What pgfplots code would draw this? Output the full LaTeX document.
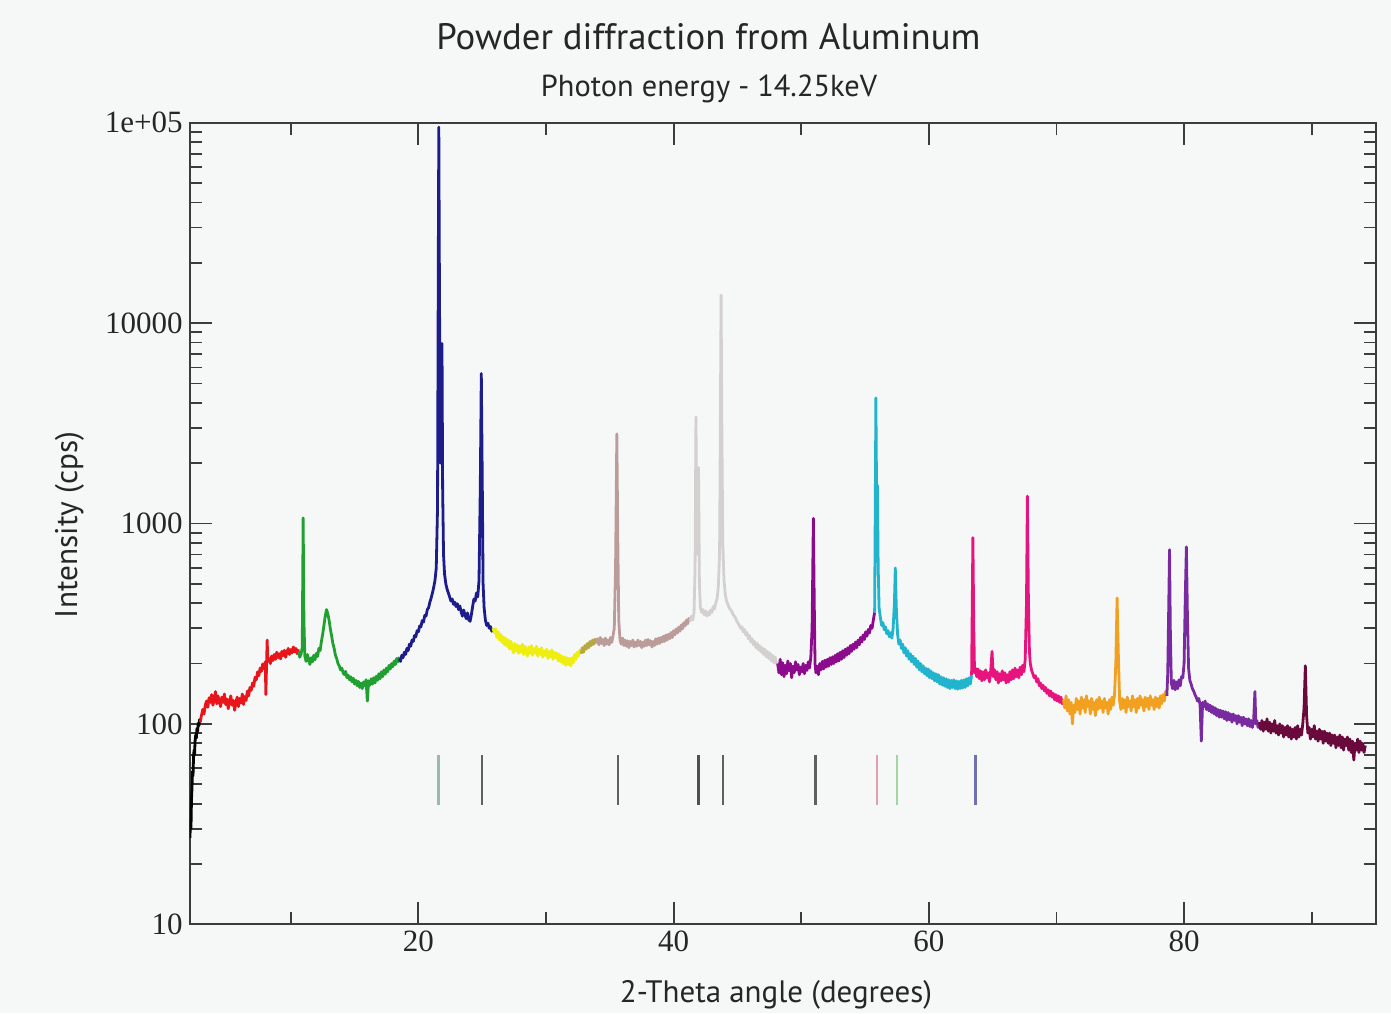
\documentclass[border=0pt]{standalone}
\usepackage{fontspec}
\setmainfont{PT Sans}
\newfontfamily\tickfont{Liberation Serif}
\usepackage{graphicx}
\usepackage{pgfplots}
\pgfplotsset{compat=1.18}
\definecolor{bg}{HTML}{F6F8F8}
\definecolor{axgray}{HTML}{3C3C3C}
\definecolor{cblack}{HTML}{000000}
\definecolor{cred}{HTML}{E8161A}
\definecolor{cgreen}{HTML}{20A030}
\definecolor{cnavy}{HTML}{1C1C8A}
\definecolor{cyellow}{HTML}{EEEE10}
\definecolor{colive}{HTML}{B8A840}
\definecolor{crosy}{HTML}{BC9C9A}
\definecolor{clgray}{HTML}{D4D0D0}
\definecolor{cdmag}{HTML}{8C0A8C}
\definecolor{ccyan}{HTML}{22B4CC}
\definecolor{cpink}{HTML}{E8147E}
\definecolor{corange}{HTML}{F2A020}
\definecolor{cpurple}{HTML}{7A2AA0}
\definecolor{cmaroon}{HTML}{6A0A3C}
\definecolor{mka}{HTML}{9AB8B0}
\definecolor{mkb}{HTML}{606060}
\definecolor{mkc}{HTML}{505050}
\definecolor{mkpink}{HTML}{E0A0B0}
\definecolor{mkgreen}{HTML}{A0D8A0}
\definecolor{mkblue}{HTML}{7070B0}
\begin{document}
\begin{tikzpicture}
\path[fill=bg, use as bounding box] (0,0) rectangle (695.5pt,506.5pt);
\begin{axis}[
  at={(94.85pt,44.35pt)}, anchor=south west, scale only axis,
  width=592.9pt, height=400.8pt,
  ymode=log, xmin=2.08, xmax=95, ymin=10, ymax=1e5,
  xtick={20,40,60,80}, minor xtick={10,30,50,70,90},
  ytick={10,100,1000,10000,100000}, yticklabels={10,100,1000,10000,1e+05},
  tick align=inside, major tick length=11pt, minor tick length=6pt,
  axis line style={draw=axgray, line width=1pt},
  tick style={draw=axgray, line width=0.9pt},
  tick label style={font=\tickfont\fontsize{15.5}{15.5}\selectfont, text=black!85},
  /pgf/number format/assume math mode=true,
  axis background/.style={fill=bg},
  every axis plot/.append style={line width=1.4pt, mark=none, line join=round},
]
% black
\addplot[color=cblack] coordinates {(2.10,27)(2.14,33)(2.18,30)(2.22,42)(2.26,48)(2.30,58)(2.34,55)(2.38,68)(2.42,74)(2.46,70)(2.50,82)(2.55,88)(2.60,85)(2.65,95)(2.70,92)(2.75,101)(2.80,98)(2.85,105)(2.90,102)};
% red
\addplot[color=cred] coordinates {(2.9,102)(3.0,110)(3.1,118)(3.2,112)(3.3,124)(3.4,130)(3.5,121)(3.6,135)(3.7,128)(3.8,140)(3.9,124)(4.0,132)(4.1,145)(4.2,126)(4.3,138)(4.4,129)(4.5,122)(4.6,136)(4.7,128)(4.8,141)(4.9,125)(5.0,133)(5.1,119)(5.2,130)(5.3,138)(5.4,124)(5.5,131)(5.6,117)(5.7,128)(5.8,136)(5.9,122)(6.0,134)(6.1,127)(6.2,141)(6.3,125)(6.4,137)(6.5,131)(6.6,146)(6.7,138)(6.8,152)(6.9,147)(7.0,160)(7.1,154)(7.2,171)(7.3,166)(7.4,182)(7.5,174)(7.6,190)(7.7,183)(7.8,199)(7.9,188)(8.0,204)(8.05,140)(8.1,196)(8.15,262)(8.2,205)(8.3,212)(8.4,200)(8.5,218)(8.6,207)(8.7,222)(8.8,210)(8.9,228)(9.0,214)(9.1,224)(9.2,211)(9.3,230)(9.4,219)(9.5,233)(9.6,215)(9.7,228)(9.8,238)(9.9,222)(10.0,235)(10.1,226)(10.2,242)(10.3,229)(10.4,238)(10.5,224)(10.6,236)};
% green
\addplot[color=cgreen] coordinates {(10.6,230)(10.7,215)(10.8,222)(10.9,240)(10.97,1066)(11.03,330)(11.1,218)(11.2,205)(11.3,222)(11.4,210)(11.5,198)(11.6,214)(11.7,204)(11.8,220)(11.9,209)(12.0,225)(12.1,217)(12.2,238)(12.3,232)(12.4,258)(12.5,280)(12.6,310)(12.7,345)(12.8,372)(12.9,355)(13.0,330)(13.1,298)(13.2,275)(13.3,252)(13.4,238)(13.5,220)(13.6,212)(13.7,200)(13.8,195)(13.9,186)(14.0,190)(14.1,180)(14.2,176)(14.3,183)(14.4,170)(14.5,175)(14.6,166)(14.7,172)(14.8,162)(14.9,169)(15.0,158)(15.1,165)(15.2,155)(15.3,163)(15.4,152)(15.5,160)(15.6,150)(15.7,162)(15.8,155)(15.9,166)(16.0,130)(16.1,164)(16.2,156)(16.3,168)(16.4,158)(16.5,170)(16.6,160)(16.7,173)(16.8,165)(16.9,178)(17.0,168)(17.1,182)(17.2,172)(17.3,186)(17.4,177)(17.5,190)(17.6,182)(17.7,196)(17.8,188)(17.9,200)(18.0,193)(18.1,206)(18.2,198)(18.3,212)(18.4,204)(18.5,216)};
% navy
\addplot[color=cnavy] coordinates {(18.5,212)(18.6,205)(18.7,220)(18.8,214)(18.9,228)(19.0,222)(19.1,238)(19.2,232)(19.3,250)(19.4,244)(19.5,262)(19.6,258)(19.7,276)(19.8,272)(19.9,292)(20.0,288)(20.1,308)(20.2,305)(20.3,328)(20.4,322)(20.5,348)(20.6,345)(20.7,372)(20.8,380)(20.9,405)(21.0,425)(21.1,450)(21.2,480)(21.3,520)(21.4,600)(21.5,1200)(21.56,20000)(21.6,95000)(21.65,15000)(21.72,2000)(21.8,3000)(21.85,7900)(21.9,1500)(21.97,700)(22.05,560)(22.15,500)(22.25,470)(22.35,450)(22.45,430)(22.55,410)(22.65,420)(22.75,395)(22.85,405)(22.95,385)(23.05,398)(23.15,372)(23.25,388)(23.35,362)(23.45,345)(23.55,370)(23.65,350)(23.75,335)(23.85,358)(23.95,330)(24.05,325)(24.15,350)(24.25,385)(24.35,420)(24.45,410)(24.55,450)(24.65,430)(24.75,520)(24.85,1500)(24.93,5600)(25.0,1800)(25.07,500)(25.15,380)(25.25,330)(25.35,310)(25.45,318)(25.55,300)(25.65,306)(25.75,290)(25.85,296)};
% yellow
\addplot[color=cyellow] coordinates {(25.85,300)(25.95,285)(26.05,298)(26.15,270)(26.25,288)(26.35,262)(26.45,280)(26.55,255)(26.65,272)(26.75,248)(26.85,268)(26.95,244)(27.05,262)(27.15,236)(27.25,258)(27.35,240)(27.45,226)(27.55,252)(27.65,232)(27.75,248)(27.85,225)(27.95,245)(28.05,228)(28.15,250)(28.25,222)(28.35,244)(28.45,230)(28.55,218)(28.65,242)(28.75,225)(28.85,246)(28.95,220)(29.05,238)(29.15,226)(29.25,244)(29.35,218)(29.45,236)(29.55,222)(29.65,240)(29.75,215)(29.85,232)(29.95,220)(30.05,236)(30.15,212)(30.25,230)(30.35,216)(30.45,234)(30.55,210)(30.65,228)(30.75,214)(30.85,226)(30.95,206)(31.05,222)(31.15,204)(31.25,218)(31.35,200)(31.45,216)(31.55,196)(31.65,214)(31.75,198)(31.85,212)(31.95,195)(32.05,214)(32.15,202)(32.25,222)(32.35,210)(32.45,228)(32.55,218)(32.65,234)(32.75,224)};
% olive
\addplot[color=colive] coordinates {(32.75,224)(32.85,240)(32.95,228)(33.05,246)(33.15,236)(33.25,252)(33.35,240)(33.45,258)(33.55,246)(33.65,262)(33.75,250)(33.85,265)(33.95,252)};
% rosy brown
\addplot[color=crosy] coordinates {(33.95,252)(34.05,266)(34.15,248)(34.25,270)(34.35,252)(34.45,264)(34.55,246)(34.65,268)(34.75,250)(34.85,262)(34.95,248)(35.05,270)(35.15,255)(35.25,275)(35.35,300)(35.45,600)(35.55,2800)(35.62,900)(35.70,330)(35.80,262)(35.90,250)(36.00,268)(36.10,246)(36.20,262)(36.30,244)(36.40,260)(36.50,240)(36.60,258)(36.70,246)(36.80,262)(36.90,242)(37.00,256)(37.10,244)(37.20,262)(37.30,246)(37.40,258)(37.50,240)(37.60,256)(37.70,244)(37.80,262)(37.90,246)(38.00,264)(38.10,248)(38.20,260)(38.30,242)(38.40,258)(38.50,246)(38.60,266)(38.70,250)(38.80,268)(38.90,252)(39.00,270)(39.10,256)(39.20,274)(39.30,258)(39.40,278)(39.50,262)(39.60,280)(39.70,266)(39.80,286)(39.90,270)(40.00,292)(40.10,278)(40.20,298)(40.30,284)(40.40,304)(40.50,290)(40.60,312)(40.70,298)(40.80,320)(40.90,308)(41.00,330)(41.10,316)(41.20,336)(41.30,325)};
% light gray
\addplot[color=clgray] coordinates {(41.30,325)(41.40,345)(41.50,330)(41.60,360)(41.68,600)(41.75,3400)(41.82,800)(41.90,700)(41.95,1900)(42.02,500)(42.10,380)(42.20,360)(42.30,372)(42.40,350)(42.50,366)(42.60,345)(42.70,362)(42.80,350)(42.90,370)(43.00,360)(43.10,385)(43.20,375)(43.30,400)(43.40,420)(43.50,480)(43.60,700)(43.66,3000)(43.72,13800)(43.78,3000)(43.85,800)(43.95,520)(44.05,440)(44.15,410)(44.25,395)(44.35,380)(44.45,372)(44.55,365)(44.65,352)(44.75,345)(44.85,338)(44.95,325)(45.05,318)(45.15,310)(45.25,300)(45.35,305)(45.45,288)(45.55,296)(45.65,278)(45.75,286)(45.85,266)(45.95,276)(46.05,256)(46.15,266)(46.25,248)(46.35,258)(46.45,240)(46.55,252)(46.65,234)(46.75,246)(46.85,228)(46.95,240)(47.05,222)(47.15,236)(47.25,216)(47.35,230)(47.45,212)(47.55,226)(47.65,206)(47.75,220)(47.85,202)(47.95,216)(48.05,200)(48.15,205)};
% dark magenta
\addplot[color=cdmag] coordinates {(48.15,200)(48.25,180)(48.35,210)(48.45,176)(48.55,202)(48.65,172)(48.75,196)(48.85,178)(48.95,206)(49.05,184)(49.15,200)(49.25,170)(49.35,194)(49.45,180)(49.55,204)(49.65,186)(49.75,198)(49.85,176)(49.95,192)(50.05,182)(50.15,200)(50.25,178)(50.35,196)(50.45,185)(50.55,204)(50.65,190)(50.75,215)(50.85,300)(50.95,1060)(51.02,400)(51.08,200)(51.15,180)(51.25,194)(51.35,176)(51.45,200)(51.55,186)(51.65,205)(51.75,188)(51.85,208)(51.95,192)(52.05,210)(52.15,194)(52.25,214)(52.35,198)(52.45,216)(52.55,200)(52.65,220)(52.75,204)(52.85,224)(52.95,206)(53.05,228)(53.15,210)(53.25,232)(53.35,214)(53.45,236)(53.55,220)(53.65,240)(53.75,224)(53.85,246)(53.95,230)(54.05,250)(54.15,236)(54.25,256)(54.35,240)(54.45,262)(54.55,248)(54.65,270)(54.75,256)(54.85,278)(54.95,264)(55.05,288)(55.15,274)(55.25,296)(55.35,284)(55.45,310)(55.55,300)(55.65,330)(55.75,360)};
% cyan
\addplot[color=ccyan] coordinates {(55.75,360)(55.80,1200)(55.85,4230)(55.90,1500)(55.97,1550)(56.03,600)(56.10,380)(56.20,340)(56.30,310)(56.40,320)(56.50,295)(56.60,305)(56.70,282)(56.80,292)(56.90,272)(57.00,285)(57.10,268)(57.20,300)(57.30,400)(57.37,600)(57.45,380)(57.55,280)(57.65,250)(57.75,262)(57.85,238)(57.95,250)(58.05,226)(58.15,240)(58.25,218)(58.35,232)(58.45,210)(58.55,224)(58.65,204)(58.75,218)(58.85,198)(58.95,212)(59.05,192)(59.15,206)(59.25,186)(59.35,200)(59.45,182)(59.55,195)(59.65,178)(59.75,190)(59.85,174)(59.95,188)(60.05,170)(60.15,184)(60.25,168)(60.35,180)(60.45,164)(60.55,178)(60.65,162)(60.75,176)(60.85,158)(60.95,172)(61.05,156)(61.15,170)(61.25,154)(61.35,168)(61.45,152)(61.55,166)(61.65,150)(61.75,165)(61.85,152)(61.95,166)(62.05,150)(62.15,164)(62.25,149)(62.35,163)(62.45,150)(62.55,165)(62.65,151)(62.75,166)(62.85,152)(62.95,168)(63.05,155)(63.15,170)(63.25,158)(63.35,175)};
% deep pink
\addplot[color=cpink] coordinates {(63.35,175)(63.45,850)(63.52,300)(63.58,180)(63.65,190)(63.75,172)(63.85,188)(63.95,168)(64.05,184)(64.15,164)(64.25,182)(64.35,166)(64.45,186)(64.55,170)(64.65,180)(64.75,162)(64.85,185)(64.95,230)(65.05,172)(65.15,186)(65.25,166)(65.35,182)(65.45,160)(65.55,178)(65.65,164)(65.75,184)(65.85,166)(65.95,180)(66.05,160)(66.15,176)(66.25,162)(66.35,182)(66.45,166)(66.55,186)(66.65,168)(66.75,190)(66.85,172)(66.95,186)(67.05,170)(67.15,192)(67.25,176)(67.35,196)(67.45,182)(67.55,210)(67.65,400)(67.72,1370)(67.80,420)(67.88,230)(67.95,200)(68.05,185)(68.15,178)(68.25,170)(68.35,174)(68.45,162)(68.55,168)(68.65,155)(68.75,160)(68.85,150)(68.95,156)(69.05,146)(69.15,152)(69.25,142)(69.35,148)(69.45,138)(69.55,146)(69.65,136)(69.75,142)(69.85,132)(69.95,140)(70.05,130)(70.15,138)(70.25,128)(70.35,136)(70.45,126)(70.55,132)};
% orange
\addplot[color=corange] coordinates {(70.55,132)(70.65,120)(70.75,138)(70.85,116)(70.95,132)(71.05,112)(71.15,128)(71.25,100)(71.35,124)(71.45,114)(71.55,134)(71.65,118)(71.75,130)(71.85,112)(71.95,136)(72.05,120)(72.15,132)(72.25,114)(72.35,138)(72.45,122)(72.55,130)(72.65,112)(72.75,134)(72.85,118)(72.95,128)(73.05,110)(73.15,132)(73.25,118)(73.35,136)(73.45,120)(73.55,130)(73.65,114)(73.75,134)(73.85,120)(73.95,128)(74.05,112)(74.15,132)(74.25,118)(74.35,136)(74.45,124)(74.55,140)(74.65,200)(74.75,425)(74.85,220)(74.95,130)(75.05,118)(75.15,134)(75.25,120)(75.35,132)(75.45,114)(75.55,136)(75.65,122)(75.75,130)(75.85,116)(75.95,138)(76.05,122)(76.15,132)(76.25,114)(76.35,134)(76.45,120)(76.55,138)(76.65,124)(76.75,132)(76.85,116)(76.95,136)(77.05,122)(77.15,134)(77.25,118)(77.35,138)(77.45,124)(77.55,132)(77.65,118)(77.75,136)(77.85,122)(77.95,134)(78.05,120)(78.15,138)(78.25,126)(78.35,140)(78.45,130)(78.55,145)(78.65,138)};
% purple
\addplot[color=cpurple] coordinates {(78.65,138)(78.72,180)(78.80,400)(78.86,740)(78.92,300)(79.00,160)(79.10,150)(79.20,165)(79.30,148)(79.40,162)(79.50,150)(79.60,166)(79.70,155)(79.80,172)(79.90,170)(80.00,200)(80.10,450)(80.18,765)(80.26,350)(80.35,190)(80.45,165)(80.55,158)(80.65,150)(80.75,146)(80.85,140)(80.95,136)(81.05,130)(81.15,134)(81.25,125)(81.35,82)(81.45,128)(81.55,122)(81.65,130)(81.75,118)(81.85,126)(81.95,116)(82.05,124)(82.15,114)(82.25,122)(82.35,112)(82.45,120)(82.55,110)(82.65,118)(82.75,108)(82.85,117)(82.95,108)(83.05,116)(83.15,106)(83.25,115)(83.35,104)(83.45,114)(83.55,105)(83.65,112)(83.75,102)(83.85,112)(83.95,104)(84.05,110)(84.15,100)(84.25,110)(84.35,102)(84.45,108)(84.55,98)(84.65,108)(84.75,100)(84.85,106)(84.95,98)(85.05,106)(85.15,97)(85.25,104)(85.35,96)(85.45,104)(85.55,145)(85.62,100)(85.70,104)(85.80,96)(85.90,102)};
% maroon
\addplot[color=cmaroon] coordinates {(85.90,102)(86.00,94)(86.10,104)(86.20,92)(86.30,102)(86.40,94)(86.50,106)(86.60,92)(86.70,102)(86.80,90)(86.90,100)(87.00,92)(87.10,104)(87.20,90)(87.30,98)(87.40,88)(87.50,100)(87.60,90)(87.70,98)(87.80,86)(87.90,96)(88.00,88)(88.10,98)(88.20,86)(88.30,96)(88.40,84)(88.50,94)(88.60,86)(88.70,96)(88.80,84)(88.90,98)(89.00,86)(89.10,94)(89.20,88)(89.30,100)(89.40,120)(89.50,195)(89.60,110)(89.70,90)(89.80,96)(89.90,84)(90.00,94)(90.10,86)(90.20,98)(90.30,84)(90.40,92)(90.50,82)(90.60,94)(90.70,84)(90.80,92)(90.90,80)(91.00,92)(91.10,82)(91.20,90)(91.30,80)(91.40,90)(91.50,78)(91.60,88)(91.70,80)(91.80,88)(91.90,76)(92.00,86)(92.10,78)(92.20,88)(92.30,76)(92.40,86)(92.50,74)(92.60,84)(92.70,78)(92.80,86)(92.90,74)(93.00,84)(93.10,72)(93.20,82)(93.30,66)(93.40,80)(93.50,74)(93.60,84)(93.70,72)(93.80,82)(93.90,74)(94.00,80)(94.10,72)(94.20,78)};
% reflection markers
\addplot[color=mka, line width=1.2pt] coordinates {(21.57,39.5)(21.57,70)};
\addplot[color=mkb, line width=1.2pt] coordinates {(24.97,39.5)(24.97,70)};
\addplot[color=mkb, line width=1.2pt] coordinates {(35.64,39.5)(35.64,70)};
\addplot[color=mkc, line width=1.6pt] coordinates {(41.94,39.5)(41.94,70)};
\addplot[color=mkb, line width=1.2pt] coordinates {(43.87,39.5)(43.87,70)};
\addplot[color=mkb, line width=1.2pt] coordinates {(51.11,39.5)(51.11,70)};
\addplot[color=mkpink, line width=1.2pt] coordinates {(55.94,39.5)(55.94,70)};
\addplot[color=mkgreen, line width=1.2pt] coordinates {(57.51,39.5)(57.51,70)};
\addplot[color=mkblue, line width=1.4pt] coordinates {(63.63,39.5)(63.63,70)};
\end{axis}
\node[anchor=base, text=black!85] at (354.25pt,481.5pt) {\resizebox{272pt}{!}{Powder diffraction from Aluminum}};
\node[anchor=base, text=black!85] at (354.5pt,458pt) {\resizebox{168pt}{!}{Photon energy - 14.25keV}};
\node[anchor=base, text=black!85] at (388pt,5.5pt) {\resizebox{156pt}{!}{2-Theta angle (degrees)}};
\node[anchor=base, rotate=90, text=black!85] at (38.5pt,244pt) {\resizebox{93pt}{!}{Intensity (cps)}};
\end{tikzpicture}
\end{document}
